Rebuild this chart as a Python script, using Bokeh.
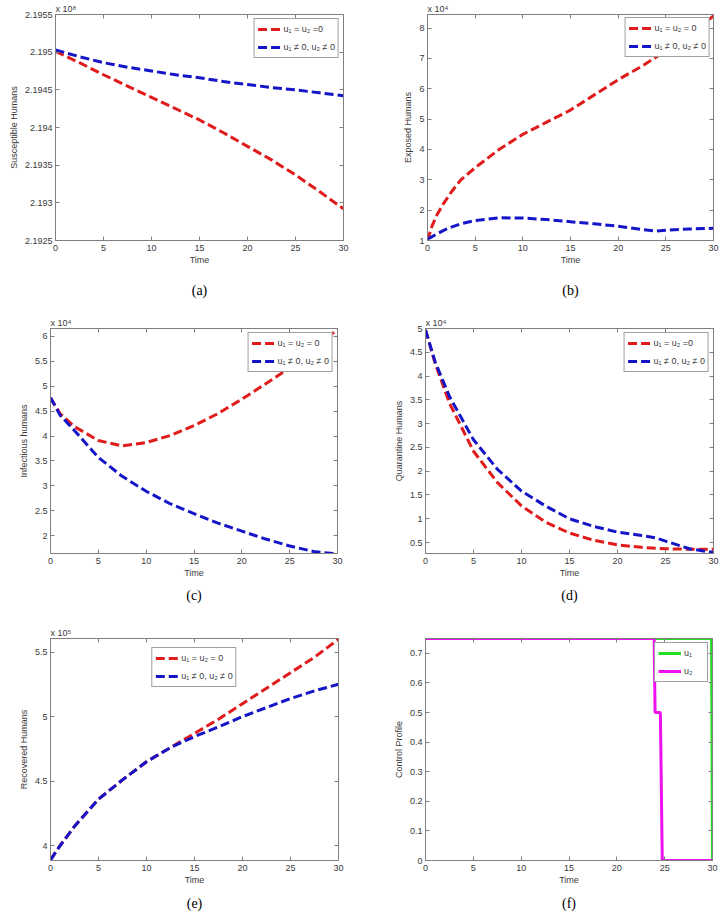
from bokeh.plotting import figure
from bokeh.layouts import column, row
from bokeh.models import Range1d, FixedTicker, LinearAxis, Legend, LegendItem, Title
from bokeh.embed import file_html
from bokeh.resources import INLINE

# ---------------- data ----------------
x_ticks = [0, 5, 10, 15, 20, 25, 30]
x_tick_labels = ["0", "5", "10", "15", "20", "25", "30"]

# (a) Susceptible humans, units of 10^8
time_a = [0, 2.5, 5, 7.5, 10, 12.5, 15, 17.5, 20, 22.5, 25, 27.5, 30]
S_no_control = [2.19501, 2.19486, 2.19470, 2.19455, 2.19440, 2.19425, 2.19410,
                2.19393, 2.19375, 2.19357, 2.19337, 2.19315, 2.19292]
S_control = [2.19503, 2.19494, 2.19486, 2.19480, 2.19475, 2.19470, 2.19466,
             2.19461, 2.19457, 2.19453, 2.19450, 2.19446, 2.19442]
a_ticks = [2.1925, 2.193, 2.1935, 2.194, 2.1945, 2.195, 2.1955]
a_tick_labels = ["2.1925", "2.193", "2.1935", "2.194", "2.1945", "2.195", "2.1955"]

# (b) Exposed humans, units of 10^4
time_b = [0, 0.5, 1, 1.75, 2.5, 3.5, 5, 7.5, 10, 12.5, 15, 17.5, 20, 22.5, 24, 25, 27.5, 30]
E_no_control = [1.0, 1.5, 1.85, 2.25, 2.6, 3.0, 3.4, 4.0, 4.5, 4.9, 5.3, 5.8, 6.3,
                6.75, 7.05, 7.25, 7.8, 8.4]
E_control = [1.05, 1.13, 1.22, 1.34, 1.44, 1.55, 1.66, 1.75, 1.74, 1.69, 1.62, 1.55,
             1.47, 1.36, 1.31, 1.34, 1.38, 1.40]
b_ticks = [1, 2, 3, 4, 5, 6, 7, 8]
b_tick_labels = ["1", "2", "3", "4", "5", "6", "7", "8"]

# (c) Infectious humans, units of 10^4
time_c = [0, 1, 2.5, 5, 7.5, 10, 12.5, 15, 17.5, 20, 22.5, 25, 27.5, 30]
I_no_control = [4.77, 4.45, 4.19, 3.91, 3.80, 3.87, 4.01, 4.21, 4.45, 4.74, 5.05, 5.37, 5.73, 6.15]
I_control = [4.77, 4.42, 4.11, 3.57, 3.19, 2.89, 2.64, 2.44, 2.25, 2.09, 1.93, 1.79, 1.68, 1.63]
c_ticks = [2, 2.5, 3, 3.5, 4, 4.5, 5, 5.5, 6]
c_tick_labels = ["2", "2.5", "3", "3.5", "4", "4.5", "5", "5.5", "6"]

# (d) Quarantine humans, units of 10^4
time_d = [0, 1, 2.5, 5, 7.5, 10, 12.5, 15, 17.5, 20, 22.5, 24, 25, 27.5, 30]
Q_no_control = [4.97, 4.27, 3.43, 2.42, 1.76, 1.27, 0.93, 0.70, 0.55, 0.45, 0.40, 0.38, 0.37, 0.36, 0.36]
Q_control = [4.97, 4.30, 3.57, 2.66, 2.04, 1.58, 1.27, 1.00, 0.84, 0.72, 0.65, 0.60, 0.53, 0.37, 0.29]
d_ticks = [0.5, 1, 1.5, 2, 2.5, 3, 3.5, 4, 4.5, 5]
d_tick_labels = ["0.5", "1", "1.5", "2", "2.5", "3", "3.5", "4", "4.5", "5"]

# (e) Recovered humans, units of 10^5
time_e = [0, 1, 2.5, 5, 7.5, 10, 12.5, 15, 17.5, 20, 22.5, 25, 27.5, 30]
R_no_control = [3.89, 4.0, 4.15, 4.36, 4.51, 4.65, 4.76, 4.87, 4.98, 5.1, 5.22, 5.34, 5.46, 5.6]
R_control = [3.89, 4.0, 4.15, 4.36, 4.51, 4.65, 4.76, 4.845, 4.92, 5.0, 5.07, 5.14, 5.2, 5.25]
e_ticks = [4, 4.5, 5, 5.5]
e_tick_labels = ["4", "4.5", "5", "5.5"]

# (f) Control profile
time_u1 = [0, 29.9, 29.95, 30]
u1 = [0.75, 0.75, 0.4, 0.0]
time_u2 = [0, 23.9, 23.95, 24.0, 24.55, 24.6, 24.7, 24.75, 30]
u2 = [0.75, 0.75, 0.62, 0.5, 0.5, 0.38, 0.12, 0.0, 0.0]
f_ticks = [0, 0.1, 0.2, 0.3, 0.4, 0.5, 0.6, 0.7]
f_tick_labels = ["0", "0.1", "0.2", "0.3", "0.4", "0.5", "0.6", "0.7"]

# ---------------- style ----------------
RED = "#e01b1b"
BLUE = "#1515c8"
GREEN = "#22dd22"
MAGENTA = "#ee11ee"
AX = "#7f7f7f"
TXT = "#3a3a3a"
SANS = "Liberation Sans"
SERIF = "Liberation Serif"
DASH = "9 4"


def make_panel(width, height, borders, y_lo, y_hi, y_ticks, y_labels, ylabel,
               multiplier, caption, cap_standoff):
    lb, rb, tb, bb = borders
    p = figure(width=width, height=height, output_backend="svg", toolbar_location=None,
               title=None, x_range=Range1d(0, 30), y_range=Range1d(y_lo, y_hi),
               min_border_left=lb, min_border_right=rb, min_border_top=tb,
               min_border_bottom=bb, background_fill_color="white",
               border_fill_color="white")
    p.xgrid.visible = False
    p.ygrid.visible = False
    p.outline_line_color = AX
    p.outline_line_width = 1

    xt = FixedTicker(ticks=x_ticks)
    yt = FixedTicker(ticks=y_ticks)
    for ax, t, labs, so, lso in ((p.xaxis[0], xt, x_tick_labels, 4, 1),
                                 (p.yaxis[0], yt, y_labels, 3, 3)):
        ax.ticker = t
        ax.major_label_overrides = {k: v for k, v in zip(t.ticks, labs)}
        ax.axis_line_color = AX
        ax.major_tick_line_color = AX
        ax.major_tick_in = 4
        ax.major_tick_out = 0
        ax.minor_tick_in = 0
        ax.minor_tick_out = 0
        ax.major_label_text_font = SANS
        ax.major_label_text_font_size = "9px"
        ax.major_label_text_color = TXT
        ax.major_label_standoff = so
        ax.axis_label_text_font = SANS
        ax.axis_label_text_font_size = "9px"
        ax.axis_label_text_font_style = "normal"
        ax.axis_label_text_color = TXT
        ax.axis_label_standoff = lso
    p.xaxis[0].axis_label = "Time"
    p.yaxis[0].axis_label = ylabel

    # mirrored inward ticks on the right and top edges (MATLAB box style)
    for side, t in (("right", yt), ("above", xt)):
        m = LinearAxis(ticker=t, major_label_text_font_size="0px",
                       major_label_text_color=None, major_label_standoff=0,
                       major_tick_in=4, major_tick_out=0, minor_tick_in=0, minor_tick_out=0,
                       axis_line_color=AX, major_tick_line_color=AX)
        p.add_layout(m, side)

    if multiplier:
        p.add_layout(Title(text=multiplier, align="left", text_font=SANS,
                           text_font_size="9px", text_font_style="normal",
                           text_color=TXT, standoff=1), "above")

    # sub-figure caption as a tick-less axis label below the x axis
    cap = LinearAxis(ticker=FixedTicker(ticks=[]), axis_line_color=None,
                     major_tick_line_color=None, minor_tick_line_color=None,
                     major_label_text_font_size="0px", major_label_text_color=None,
                     major_label_standoff=0, major_tick_in=0, major_tick_out=0,
                     minor_tick_in=0, minor_tick_out=0,
                     axis_label=caption, axis_label_text_font=SERIF,
                     axis_label_text_font_size="14px", axis_label_text_font_style="normal",
                     axis_label_text_color="black", axis_label_standoff=cap_standoff)
    p.add_layout(cap, "below")
    return p


def add_legend(p, items, location, margin=4):
    leg = Legend(items=items, location=location, margin=margin, padding=3,
                 spacing=4, label_height=14, glyph_height=14, glyph_width=23,
                 label_standoff=3, label_text_font=SANS, label_text_font_size="9px",
                 label_text_color=TXT, border_line_color="#404040",
                 border_line_width=1, background_fill_alpha=1.0)
    p.add_layout(leg)


def two_series(p, t, y_no, y_ctrl, lab_no, lab_ctrl, location, margin=4):
    r1 = p.line(t, y_no, line_color=RED, line_width=3, line_dash=DASH)
    r2 = p.line(t, y_ctrl, line_color=BLUE, line_width=3, line_dash=DASH)
    add_legend(p, [LegendItem(label=lab_no, renderers=[r1]),
                   LegendItem(label=lab_ctrl, renderers=[r2])], location, margin)


LAB_CTRL = "u\u2081 \u2260 0, u\u2082 \u2260 0"
LAB_NO_A = "u\u2081 = u\u2082 =0"
LAB_NO = "u\u2081 = u\u2082 = 0"

WL, WR = 364, 356
H1, H2, H3 = 300, 310, 303

pa = make_panel(WL, H1, (55, 21, 14, 59), 2.1925, 2.1955, a_ticks, a_tick_labels,
                "Susceptible Humans", "x 10\u2078", "(a)", 15)
two_series(pa, time_a, S_no_control, S_control, LAB_NO_A, LAB_CTRL, "top_right")

pb = make_panel(WR, H1, (63, 7, 13, 60), 1.0, 8.45, b_ticks, b_tick_labels,
                "Exposed Humans", "x 10\u2074", "(b)", 15)
two_series(pb, time_b, E_no_control, E_control, LAB_NO, LAB_CTRL, "top_right", 3)

pc = make_panel(WL, H2, (50, 27, 28, 57), 1.64, 6.16, c_ticks, c_tick_labels,
                "Infectious humans", "x 10\u2074", "(c)", 7)
two_series(pc, time_c, I_no_control, I_control, LAB_NO, LAB_CTRL, "top_right")

pd_ = make_panel(WR, H2, (61, 7, 28, 56), 0.27, 5.0, d_ticks, d_tick_labels,
                 "Quarantine Humans", "x 10\u2074", "(d)", 7)
two_series(pd_, time_d, Q_no_control, Q_control, LAB_NO_A, LAB_CTRL, "top_right")

pe = make_panel(WL, H3, (50, 26, 28, 50), 3.885, 5.605, e_ticks, e_tick_labels,
                "Recovered Humans", "x 10\u2075", "(e)", 8)
two_series(pe, time_e, R_no_control, R_control, LAB_NO, LAB_CTRL, "top_center", 9)

pf = make_panel(WR, H3, (61, 8, 28, 50), 0.0, 0.75, f_ticks, f_tick_labels,
                "Control Profile", None, "(f)", 8)
g1 = pf.line(time_u1, u1, line_color=GREEN, line_width=3)
g2 = pf.line(time_u2, u2, line_color=MAGENTA, line_width=3)
add_legend(pf, [LegendItem(label="u\u2081", renderers=[g1]),
                LegendItem(label="u\u2082", renderers=[g2])], "top_right")

layout = column(row(pa, pb), row(pc, pd_), row(pe, pf))

open("out.html", "w").write(file_html(layout, INLINE))
